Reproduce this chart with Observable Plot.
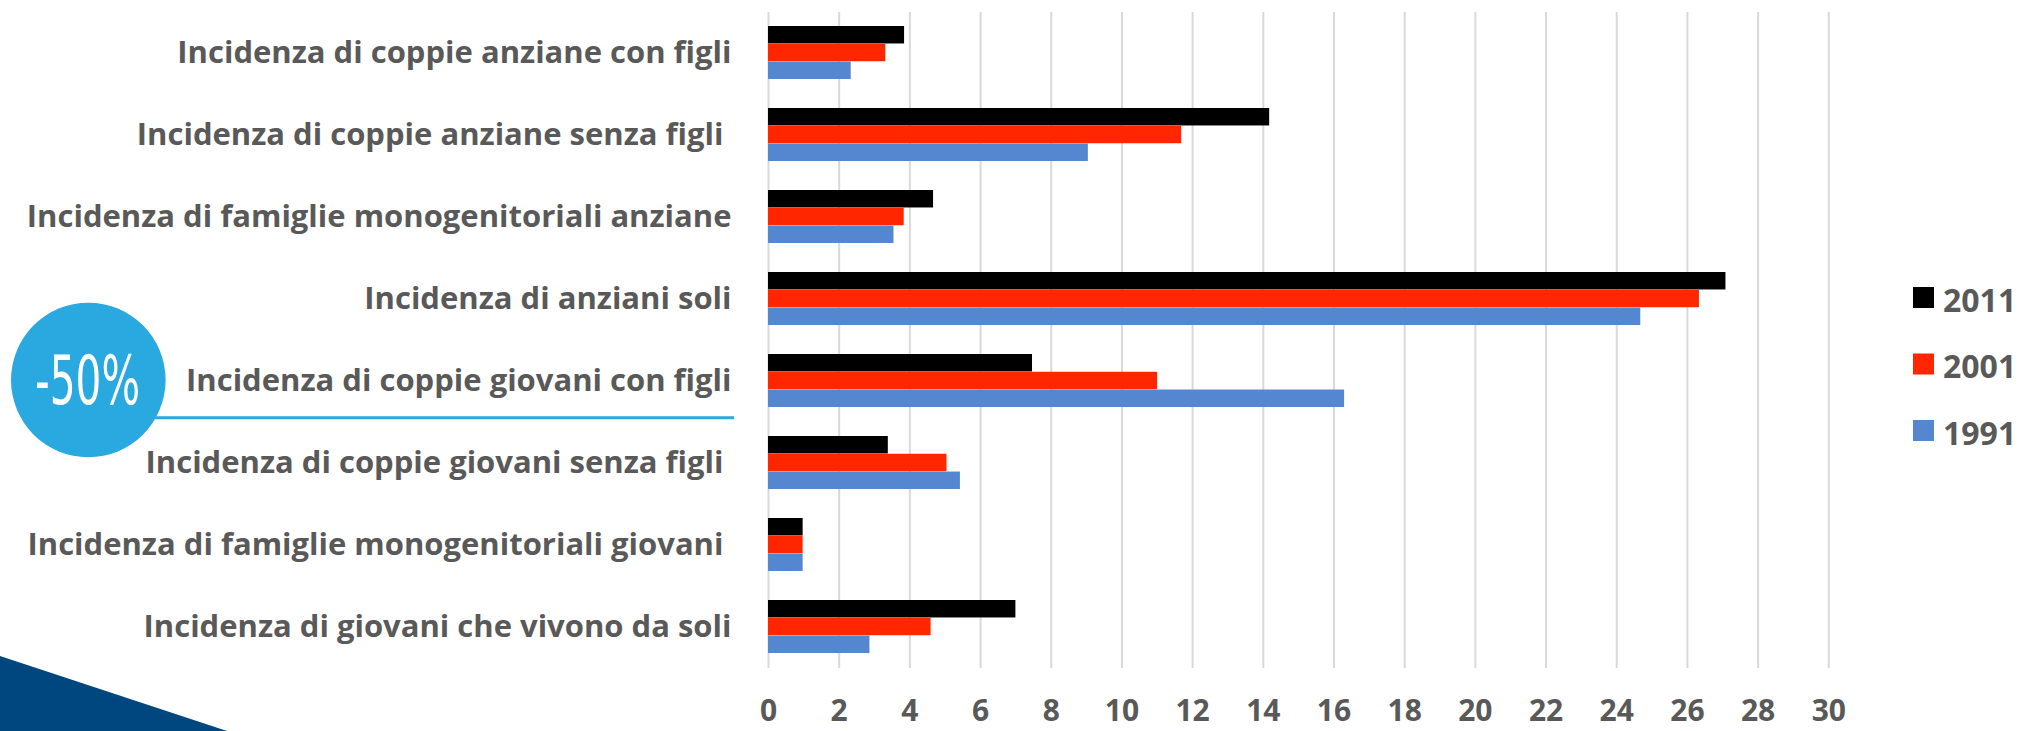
<!DOCTYPE html>
<html>
<head>
<meta charset="utf-8">
<script src="https://cdn.jsdelivr.net/npm/d3@7"></script>
<script src="https://cdn.jsdelivr.net/npm/@observablehq/plot@0.6"></script>
<style>
  html, body { margin: 0; padding: 0; background: #ffffff; }
  #wrap { position: relative; width: 2020px; height: 731px; overflow: hidden; background: #fff; }
  #wrap svg text { white-space: pre; }
  #overlay { position: absolute; left: 0; top: 0; pointer-events: none; }
</style>
</head>
<body>
<div id="wrap"></div>
<script>
// ---- data ----
const categories = [
  "Incidenza di coppie anziane con figli",
  "Incidenza di coppie anziane senza figli ",
  "Incidenza di famiglie monogenitoriali anziane",
  "Incidenza di anziani soli",
  "Incidenza di coppie giovani con figli",
  "Incidenza di coppie giovani senza figli ",
  "Incidenza di famiglie monogenitoriali giovani ",
  "Incidenza di giovani che vivono da soli"
];
const years = ["2011", "2001", "1991"];
const values2011 = [3.85, 14.18, 4.67, 27.09, 7.47, 3.39, 0.98, 7.00];
const values2001 = [3.32, 11.69, 3.84, 26.34, 11.01, 5.05, 0.98, 4.60];
const values1991 = [2.34, 9.05, 3.55, 24.68, 16.30, 5.43, 0.98, 2.87];
const xTicks = [0, 2, 4, 6, 8, 10, 12, 14, 16, 18, 20, 22, 24, 26, 28, 30];
const colors = ["#000000", "#ff2600", "#5587d0"];
const badgeText = "-50%";

// ---- table built from the arrays ----
const seriesByYear = {"2011": values2011, "2001": values2001, "1991": values1991};
const rows = categories.flatMap((category, i) =>
  years.map(year => ({category, year, value: seriesByYear[year][i]}))
);

// ---- layout ----
const W = 2020, H = 731;
const mTop = 12, mBottom = 63, mLeft = 768, mRight = 191.7;
const padInner = 0.35, padOuter = 0.175;
const step = (H - mTop - mBottom) / (categories.length - padInner + 2 * padOuter);
const groupH = step * (1 - padInner);
const barH = groupH / years.length;
const FONT = "'Open Sans', Lato, sans-serif";

const barMarks = years.map((year, j) =>
  Plot.barX(rows.filter(d => d.year === year), {
    y: "category",
    x: "value",
    fill: "year",
    insetTop: j * barH,
    insetBottom: (years.length - 1 - j) * barH
  })
);

const chart = Plot.plot({
  width: W,
  height: H,
  marginTop: mTop,
  marginBottom: mBottom,
  marginLeft: mLeft,
  marginRight: mRight,
  style: {fontFamily: FONT, color: "#595959", background: "transparent", overflow: "visible"},
  x: {domain: [0, 30]},
  y: {domain: categories, paddingInner: padInner, paddingOuter: padOuter, align: 0.5},
  color: {domain: years, range: colors},
  marks: [
    Plot.gridX(xTicks, {stroke: "#d9d9d9", strokeWidth: 2, strokeOpacity: 1}),
    ...barMarks,
    Plot.axisX(xTicks, {tickSize: 0, tickPadding: 31, fontSize: 30, fontWeight: "bold", label: null, tickFormat: d => String(d)}),
    Plot.axisY({tickSize: 0, tickPadding: 37, fontSize: 31, fontWeight: "bold", label: null})
  ]
});

const wrap = document.getElementById("wrap");
wrap.appendChild(chart);

// ---- decorations and legend (overlay) ----
const ov = d3.create("svg")
  .attr("id", "overlay")
  .attr("width", W)
  .attr("height", H)
  .attr("xmlns", "http://www.w3.org/2000/svg");

// dark blue corner triangle
ov.append("path")
  .attr("d", "M0,656 L227,731 L0,731 Z")
  .attr("fill", "#00467f");

// highlight line under the label
ov.append("line")
  .attr("x1", 150).attr("x2", 734)
  .attr("y1", 417.7).attr("y2", 417.7)
  .attr("stroke", "#29a9e0")
  .attr("stroke-width", 3);

// badge circle
ov.append("circle")
  .attr("cx", 88.3).attr("cy", 380).attr("r", 77.3)
  .attr("fill", "#29a9e0");

ov.append("text")
  .attr("x", 87.5).attr("y", 404)
  .attr("text-anchor", "middle")
  .attr("fill", "#ffffff")
  .attr("font-family", "'Liberation Sans Narrow', 'DejaVu Sans Condensed', 'Liberation Sans', sans-serif")
  .attr("font-size", 68)
  .attr("textLength", 105)
  .attr("lengthAdjust", "spacingAndGlyphs")
  .text(badgeText);

// legend
const legend = ov.append("g").attr("font-family", FONT)
  .attr("font-weight", "bold").attr("font-size", 32).attr("fill", "#595959");
years.forEach((year, j) => {
  const top = 287 + j * 66.5;
  legend.append("rect")
    .attr("x", 1913).attr("y", top).attr("width", 21).attr("height", 21)
    .attr("fill", colors[j]);
  legend.append("text")
    .attr("x", 1943).attr("y", top + 24.5)
    .text(year);
});

wrap.appendChild(ov.node());
</script>
</body>
</html>
